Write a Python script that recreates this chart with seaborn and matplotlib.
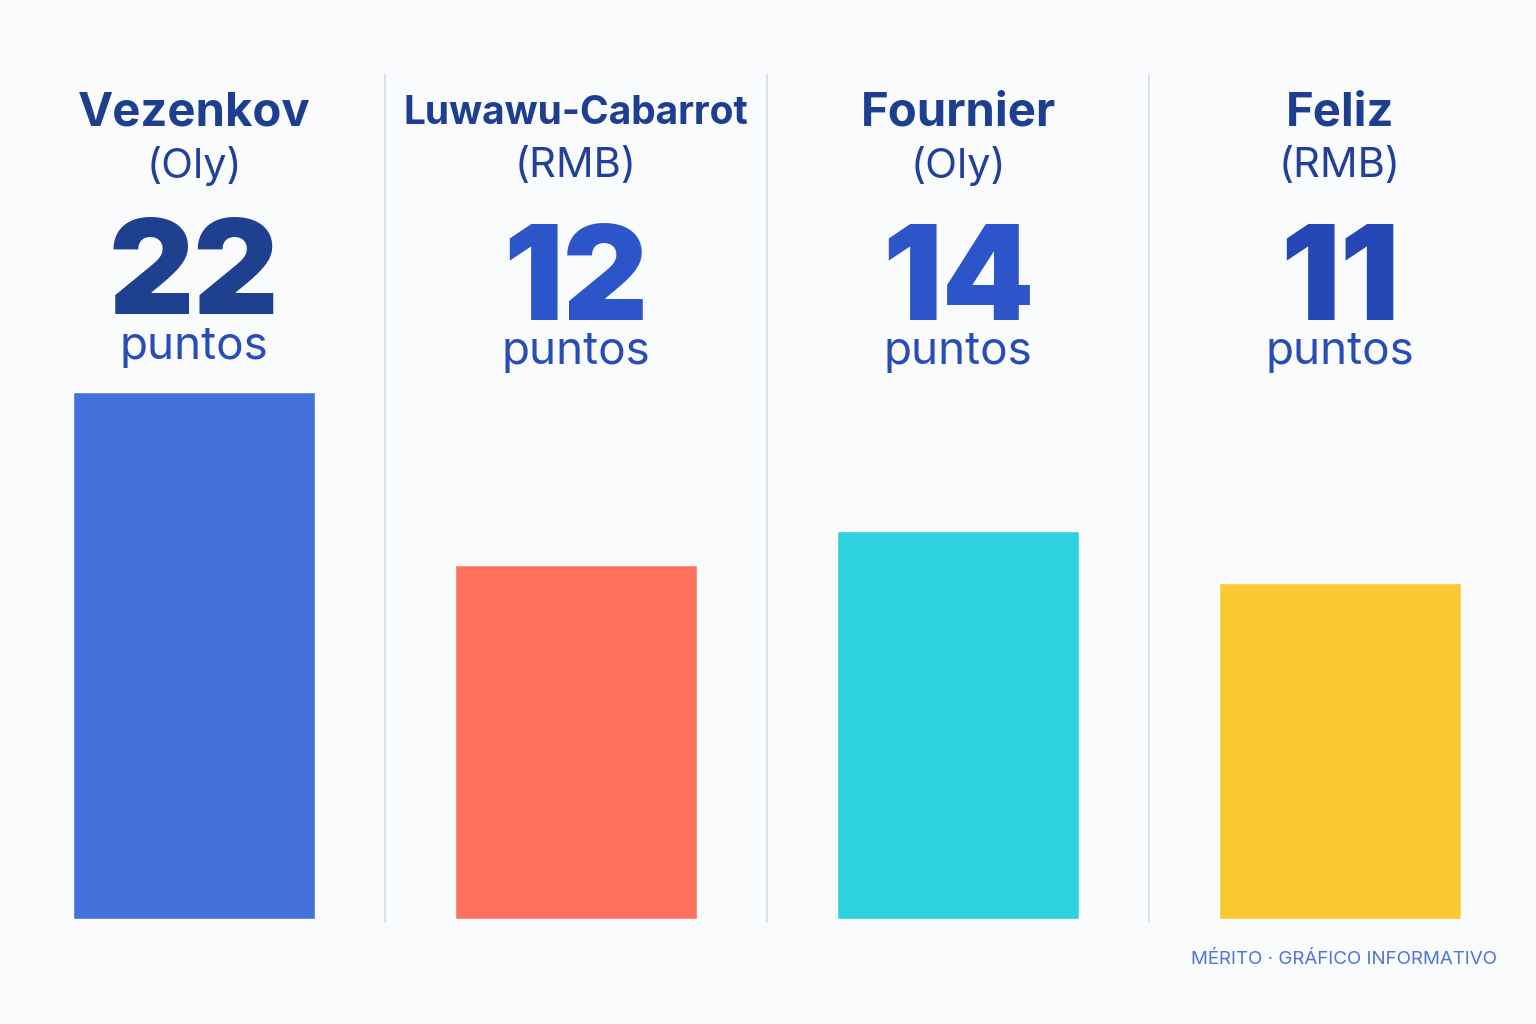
import pandas as pd
import matplotlib.pyplot as plt
import matplotlib.transforms as mtransforms
import seaborn as sns

# data
players = ['Vezenkov', 'Luwawu-Cabarrot', 'Fournier', 'Feliz']
teams = ['(Oly)', '(RMB)', '(Oly)', '(RMB)']
points = [22, 12, 14, 11]
bar_colors = ['#4470DB', '#FF715E', '#2DD1DF', '#F9C932']
number_colors = ['#1F3F8F', '#2B55C8', '#2B55C8', '#2547B5']

df = pd.DataFrame({'player': players, 'team': teams, 'points': points})

sns.set_theme(style='white')
plt.rcParams['font.family'] = ['Inter', 'DejaVu Sans']

BG = '#FAFBFD'
BASE = -8.4  # bars start below zero, as in the reference

fig = plt.figure(figsize=(15.36, 10.24), dpi=100, facecolor=BG)
ax = fig.add_axes([3 / 1536, 105 / 1024, 1528 / 1536, 845 / 1024])
ax.set_facecolor(BG)

sns.barplot(data=df, x='player', y='points', hue='player', palette=bar_colors,
            legend=False, width=0.635, ax=ax, saturation=1)
for patch in ax.patches:
    h = patch.get_height()
    patch.set_y(BASE)
    patch.set_height(h - BASE)

ax.set_xlim(-0.5, 3.5)
ax.set_ylim(BASE, BASE + 845 / 17.33)
ax.axis('off')

for sep in [0.5, 1.5, 2.5]:
    ax.axvline(sep, ymin=-0.004, ymax=1, color='#D3DDEE', lw=1.2, clip_on=False)

trans = mtransforms.blended_transform_factory(ax.transData, fig.transFigure)

def fy(px):
    return 1 - px / 1024

for i, row in df.iterrows():
    name_size = 34 if len(row['player']) < 12 else 28
    lift = 5 if i == 0 else 0
    ax.text(i, fy(114), row['player'], transform=trans, ha='center', va='center',
            fontsize=name_size, fontweight='bold', color='#1E3F8F')
    ax.text(i, fy(166), row['team'], transform=trans, ha='center', va='center',
            fontsize=30, color='#22409A')
    ax.text(i, fy(285 - lift), str(row['points']), transform=trans, ha='center',
            va='center', fontsize=95, fontweight='black', color=number_colors[i])
    ax.text(i, fy(352 - lift), 'puntos', transform=trans, ha='center', va='center',
            fontsize=33, color='#2A4DB5')

fig.text(1497 / 1536, fy(960), 'MÉRITO · GRÁFICO INFORMATIVO', ha='right', va='center',
         fontsize=13.5, color='#4F73D6')

fig.savefig('out.png', dpi=100, facecolor=BG)
